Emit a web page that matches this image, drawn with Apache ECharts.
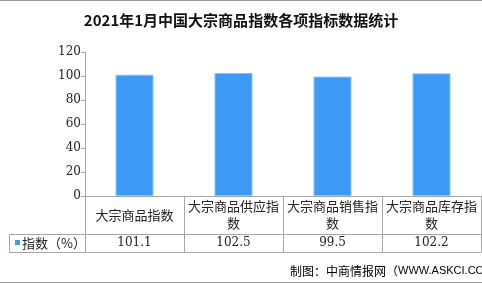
<!DOCTYPE html>
<html><head><meta charset="utf-8">
<script src="https://cdn.jsdelivr.net/npm/echarts@6/dist/echarts.min.js"></script>
<style>html,body{margin:0;padding:0;background:#fff}#c{width:482px;height:284px}</style>
</head><body><div id="c"></div>
<script>
var titleText = '2021年1月中国大宗商品指数各项指标数据统计';
var categories = ['大宗商品指数', '大宗商品供应指数', '大宗商品销售指数', '大宗商品库存指数'];
var seriesName = '指数（%）';
var values = [101.1, 102.5, 99.5, 102.2];
var yTicks = [0, 20, 40, 60, 80, 100, 120];
var sourceText = '制图：中商情报网（';
var sourceUrl = 'WWW.ASKCI.COM）';

var lineColor = '#a6a6a6';
var chart = echarts.init(document.getElementById('c'), null, {renderer: 'canvas'});
chart.setOption({
  animation: false,
  backgroundColor: '#fff',
  title: {
    text: titleText, left: 'center', top: 8,
    textStyle: {fontFamily: 'Noto Sans CJK SC', fontWeight: 'bold', fontSize: 15, color: '#111'}
  },
  grid: {left: 85, top: 52, width: 400, height: 144},
  xAxis: [{
    type: 'category', data: categories, position: 'bottom',
    axisLine: {lineStyle: {color: lineColor}},
    axisTick: {show: true, length: 56, lineStyle: {color: lineColor}},
    axisLabel: {interval: 0, margin: 19, verticalAlign: 'middle', width: 96, overflow: 'break',
      lineHeight: 17, fontSize: 13, color: '#222', fontFamily: 'Noto Sans CJK SC'}
  }, {
    type: 'category', data: categories, position: 'bottom', offset: 38,
    axisLine: {lineStyle: {color: lineColor}},
    axisTick: {show: false},
    axisLabel: {interval: 0, margin: 9, verticalAlign: 'middle', fontSize: 12, color: '#222',
      fontFamily: 'DejaVu Serif',
      formatter: function (v, i) { return values[i].toFixed(1); }}
  }, {
    type: 'category', data: categories, position: 'bottom', offset: 56,
    axisLine: {lineStyle: {color: lineColor}},
    axisTick: {show: false}, axisLabel: {show: false}
  }],
  yAxis: {
    type: 'value', min: yTicks[0], max: yTicks[yTicks.length - 1], interval: 20,
    axisLine: {show: true, lineStyle: {color: lineColor}},
    axisTick: {show: true, length: 4, lineStyle: {color: lineColor}},
    splitLine: {show: false},
    axisLabel: {margin: 4, fontSize: 12, color: '#222', fontFamily: 'DejaVu Serif'}
  },
  series: [{
    type: 'bar', name: seriesName, data: values, barWidth: 38, xAxisIndex: 0,
    itemStyle: {color: '#3d9af4', borderColor: '#86c4ff', borderWidth: 1}
  }],
  graphic: [
    {type: 'line', shape: {x1: 0, y1: 0.5, x2: 482, y2: 0.5}, style: {stroke: '#999', lineWidth: 1}},
    {type: 'line', shape: {x1: 0, y1: 282.5, x2: 482, y2: 282.5}, style: {stroke: '#999', lineWidth: 1}},
    {type: 'line', shape: {x1: 9, y1: 234.5, x2: 85, y2: 234.5}, style: {stroke: lineColor, lineWidth: 1}},
    {type: 'line', shape: {x1: 9, y1: 252.5, x2: 85, y2: 252.5}, style: {stroke: lineColor, lineWidth: 1}},
    {type: 'line', shape: {x1: 9.5, y1: 234, x2: 9.5, y2: 253}, style: {stroke: lineColor, lineWidth: 1}},
    {type: 'rect', shape: {x: 15, y: 240, width: 5, height: 5}, style: {fill: '#3d9af4'}},
    {type: 'text', x: 22, y: 243, style: {text: seriesName, fontSize: 13, fill: '#222',
      fontFamily: 'Noto Sans CJK SC', verticalAlign: 'middle'}},
    {type: 'text', x: 290, y: 271, style: {
      text: '{a|' + sourceText + '}{b|' + sourceUrl + '}', verticalAlign: 'middle',
      rich: {a: {fontSize: 12, color: '#333', fontFamily: 'Noto Sans CJK SC'},
             b: {fontSize: 11, color: '#1f2d5c', fontFamily: 'Liberation Sans'}}}}
  ]
});
</script></body></html>
